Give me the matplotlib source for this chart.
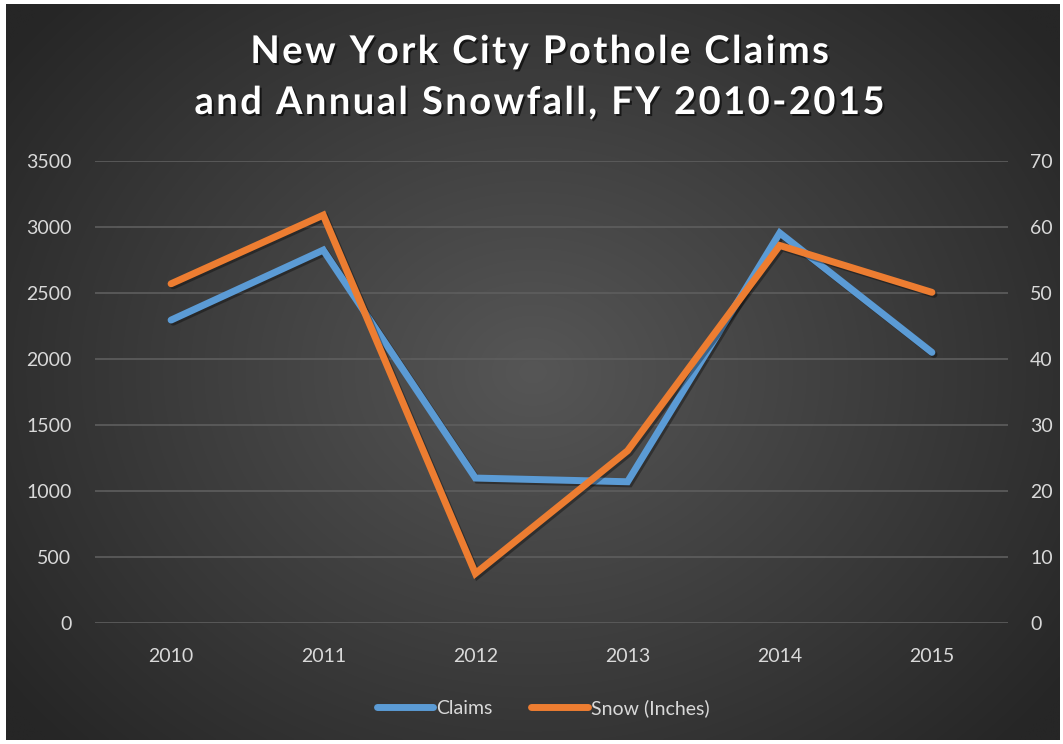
import numpy as np
import matplotlib
matplotlib.use('Agg')
import matplotlib.pyplot as plt
import matplotlib.patheffects as pe

anios = ['2010', '2011', '2012', '2013', '2014', '2015']
reclamos = [2295, 2825, 1098, 1070, 2955, 2050]
nieve = [51.4, 61.8, 7.5, 26.1, 57.2, 50.1]

ticks_izq = [0, 500, 1000, 1500, 2000, 2500, 3000, 3500]
ticks_der = [0, 10, 20, 30, 40, 50, 60, 70]

titulo = ['New York City Pothole Claims', 'and Annual Snowfall, FY 2010-2015']

azul = '#5b9bd5'
naranja = '#ed7d31'
gris_texto = '#d9d9d9'

plt.rcParams['font.family'] = ['Lato', 'DejaVu Sans']

fig = plt.figure(figsize=(10.63, 7.44), dpi=100)
fig.patch.set_facecolor('white')

# fondo con degradado radial
fondo = fig.add_axes([6 / 1063, 4 / 744, 1054 / 1063, 736 / 744])
fondo.set_axis_off()
yy, xx = np.mgrid[-1:1:300j, -1:1:400j]
r = np.sqrt(xx ** 2 + (yy * 0.85) ** 2)
r = np.clip(r / 1.25, 0, 1)
claro = np.array([0x56, 0x56, 0x56]) / 255
oscuro = np.array([0x26, 0x26, 0x26]) / 255
img = claro[None, None, :] * (1 - r[..., None]) + oscuro[None, None, :] * r[..., None]
fondo.imshow(img, aspect='auto', extent=[0, 1, 0, 1], interpolation='bilinear')
fondo.set_xlim(0, 1)
fondo.set_ylim(0, 1)

ax = fig.add_axes([95 / 1063, 1 - 623 / 744, 913 / 1063, 462 / 744])
ax.patch.set_alpha(0)
ax2 = ax.twinx()

x = np.arange(len(anios))
sombra = [pe.SimpleLineShadow(offset=(1.5, -1.5), shadow_color='black', alpha=0.35),
          pe.Normal()]

l1, = ax.plot(x, reclamos, color=azul, lw=5, solid_capstyle='round',
              solid_joinstyle='miter', label='Claims', path_effects=sombra, zorder=3)
l2, = ax2.plot(x, nieve, color=naranja, lw=5, solid_capstyle='round',
               solid_joinstyle='miter', label='Snow (Inches)', path_effects=sombra, zorder=4)

ax.set_xlim(-0.5, len(anios) - 0.5)
ax.set_ylim(0, 3500)
ax2.set_ylim(0, 70)
ax.set_yticks(ticks_izq)
ax2.set_yticks(ticks_der)
ax.set_xticks(x)
ax.set_xticklabels(anios)

ax.grid(axis='y', color='#5e5e5e', lw=1.2)
ax.set_axisbelow(True)
for a in (ax, ax2):
    for s in a.spines.values():
        s.set_visible(False)
    a.tick_params(length=0, labelsize=14, colors=gris_texto)
ax.tick_params(axis='y', pad=17)
ax.tick_params(axis='x', pad=18)
ax2.tick_params(axis='y', pad=16)

# título con espaciado entre letras (hair space)
espacio = '\u200a'
for i, linea in enumerate(titulo):
    texto = espacio.join(linea)
    fig.text(540 / 1063, 1 - (52 + 51 * i) / 744, texto, ha='center', va='center',
             fontsize=27.5, fontweight='bold', color='white',
             path_effects=[pe.withSimplePatchShadow(offset=(1.5, -1.5),
                                                     shadow_rgbFace='black', alpha=0.6)])

leg = fig.legend([l1, l2], ['Claims', 'Snow (Inches)'], loc='center',
                 bbox_to_anchor=(543 / 1063, 1 - 708 / 744), ncol=2, frameon=False,
                 fontsize=14, handlelength=2.9, handletextpad=0.15, columnspacing=2.0)
for t in leg.get_texts():
    t.set_color(gris_texto)
for h in leg.legend_handles:
    h.set_path_effects([])

fig.savefig('out.png', dpi=100)
